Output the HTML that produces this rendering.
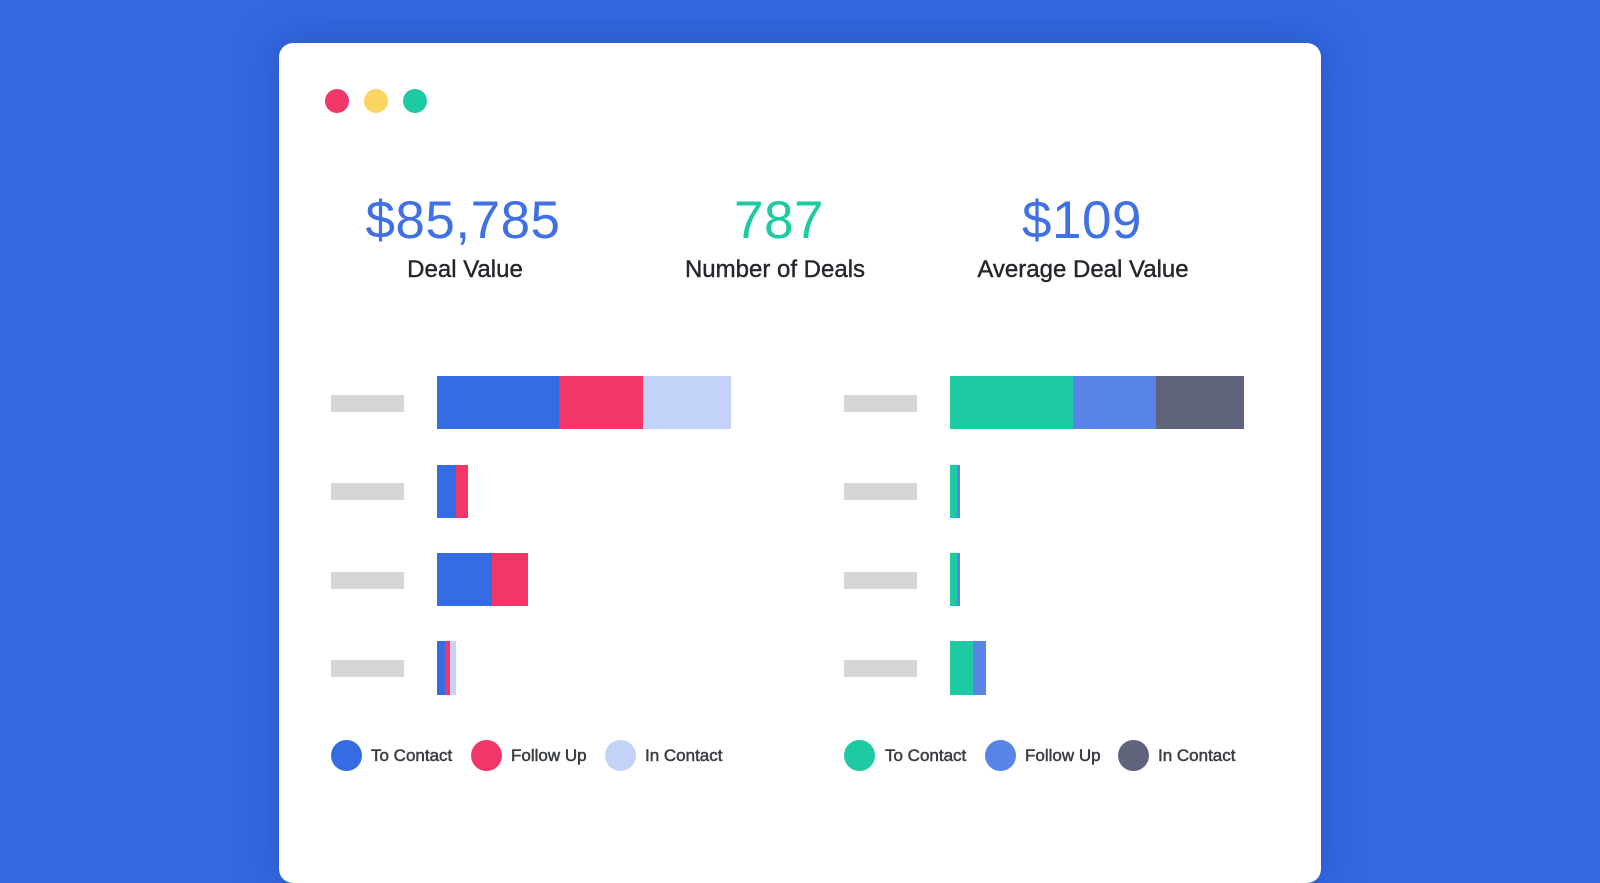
<!DOCTYPE html>
<html><head><meta charset="utf-8"><style>
*{margin:0;padding:0;box-sizing:border-box}
body{width:1600px;height:838px;overflow:hidden;background:#3469e2;position:relative;font-family:"Liberation Sans",sans-serif}
.card{position:absolute;left:279px;top:43px;width:1042px;height:840px;background:#fff;border-radius:14px;box-shadow:0 0 40px 8px rgba(30,60,160,0.35)}
.a{position:absolute}
.dot{position:absolute;width:24px;height:24px;border-radius:50%;top:89px}
.num{position:absolute;top:190px;font-size:53px;font-weight:300;text-align:center;width:400px;letter-spacing:0.5px}
.lab{position:absolute;top:256px;font-size:24px;color:#25272f;text-align:center;width:400px;-webkit-text-stroke:0.4px #25272f}
.g{position:absolute;background:#d6d6d6;width:73px;height:17px}
.lc{position:absolute;width:31px;height:31px;border-radius:50%;top:740px}
.lt{position:absolute;top:746px;font-size:17px;color:#3a3d46;-webkit-text-stroke:0.5px #3a3d46}
</style></head><body>
<div class="card"></div>
<div class="dot" style="left:325px;background:#f3376a"></div>
<div class="dot" style="left:364px;background:#fbd562"></div>
<div class="dot" style="left:403px;background:#1dcaa2"></div>

<div class="num" style="left:263px;color:#3f70e4">$85,785</div>
<div class="lab" style="left:265px">Deal Value</div>
<div class="num" style="left:579px;color:#1dcaa2">787</div>
<div class="lab" style="left:575px">Number of Deals</div>
<div class="num" style="left:882px;color:#3f70e4">$109</div>
<div class="lab" style="left:883px">Average Deal Value</div>

<div class="g" style="left:331px;top:395px"></div>
<div class="g" style="left:331px;top:483px"></div>
<div class="g" style="left:331px;top:572px"></div>
<div class="g" style="left:331px;top:660px"></div>
<div class="a" style="left:437px;top:376px;width:122px;height:53px;background:#356be3"></div>
<div class="a" style="left:559px;top:376px;width:84px;height:53px;background:#f23668"></div>
<div class="a" style="left:643px;top:376px;width:88px;height:53px;background:#c3d2f7"></div>
<div class="a" style="left:437px;top:465px;width:19px;height:53px;background:#356be3"></div>
<div class="a" style="left:456px;top:465px;width:12px;height:53px;background:#f23668"></div>
<div class="a" style="left:437px;top:553px;width:55px;height:53px;background:#356be3"></div>
<div class="a" style="left:492px;top:553px;width:36px;height:53px;background:#f23668"></div>
<div class="a" style="left:437px;top:641px;width:8px;height:54px;background:#356be3"></div>
<div class="a" style="left:445px;top:641px;width:5px;height:54px;background:#f23668"></div>
<div class="a" style="left:450px;top:641px;width:6px;height:54px;background:#c3d2f7"></div>

<div class="lc" style="left:331px;background:#356be3"></div><div class="lt" style="left:371px">To Contact</div>
<div class="lc" style="left:471px;background:#f23668"></div><div class="lt" style="left:511px">Follow Up</div>
<div class="lc" style="left:605px;background:#c3d2f7"></div><div class="lt" style="left:645px">In Contact</div>

<div class="g" style="left:844px;top:395px"></div>
<div class="g" style="left:844px;top:483px"></div>
<div class="g" style="left:844px;top:572px"></div>
<div class="g" style="left:844px;top:660px"></div>
<div class="a" style="left:950px;top:376px;width:123px;height:53px;background:#1dcaa2"></div>
<div class="a" style="left:1073px;top:376px;width:83px;height:53px;background:#5884e8"></div>
<div class="a" style="left:1156px;top:376px;width:88px;height:53px;background:#5f647c"></div>
<div class="a" style="left:950px;top:465px;width:7px;height:53px;background:#1dcaa2"></div>
<div class="a" style="left:957px;top:465px;width:3px;height:53px;background:#5884e8"></div>
<div class="a" style="left:950px;top:553px;width:7px;height:53px;background:#1dcaa2"></div>
<div class="a" style="left:957px;top:553px;width:3px;height:53px;background:#5884e8"></div>
<div class="a" style="left:950px;top:641px;width:23px;height:54px;background:#1dcaa2"></div>
<div class="a" style="left:973px;top:641px;width:13px;height:54px;background:#5884e8"></div>

<div class="lc" style="left:844px;background:#1dcaa2"></div><div class="lt" style="left:885px">To Contact</div>
<div class="lc" style="left:985px;background:#5884e8"></div><div class="lt" style="left:1025px">Follow Up</div>
<div class="lc" style="left:1118px;background:#5f647c"></div><div class="lt" style="left:1158px">In Contact</div>
</body></html>
